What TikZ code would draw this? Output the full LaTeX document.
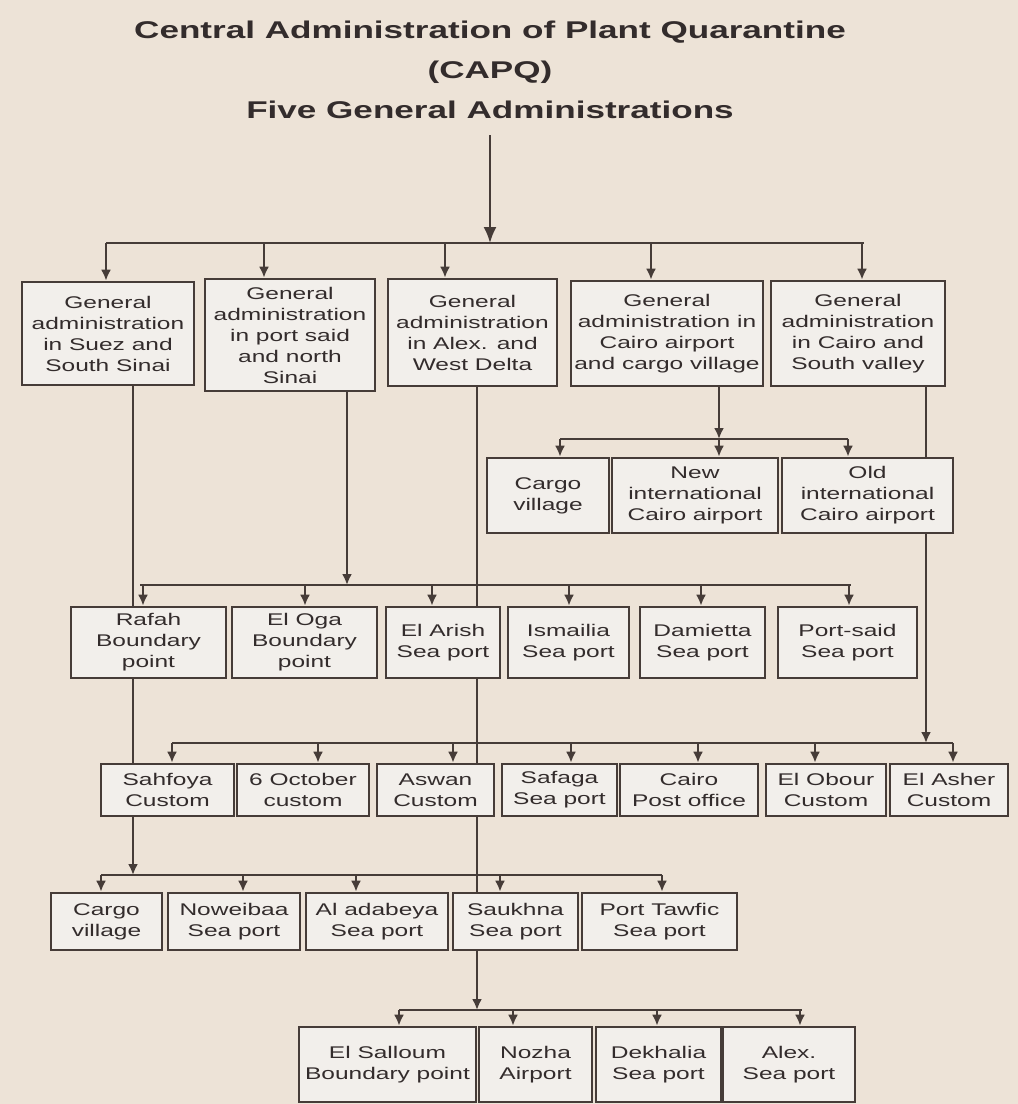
\documentclass[tikz,border=0pt]{standalone}
\usepackage{fontspec}
\setmainfont{Liberation Sans}[FakeStretch=1.45]
\usetikzlibrary{arrows.meta}
\definecolor{paper}{HTML}{EDE3D7}
\definecolor{boxfill}{HTML}{F2EFEB}
\definecolor{ink}{HTML}{463C38}
\definecolor{txt}{HTML}{332C2C}
\pgfdeclarelayer{bg}
\pgfdeclarelayer{wires}
\pgfsetlayers{bg,wires,main}
\newcommand{\mkbox}[6]{%
  \node[box, minimum width={#3-#2}, minimum height={#5-#4}] (#1) at ({(#2+#3)/2},{(#4+#5)/2}) {#6};}
\begin{document}
\begin{tikzpicture}[x=1pt,y=-1pt,
  box/.style={draw=ink, line width=2.6pt, fill=boxfill, inner sep=0pt, align=center, text=txt,
    font=\fontsize{16.9}{21}\selectfont},
  link/.style={draw=ink, line width=2.5pt},
  arr/.style={link, -{Latex[length=11pt,width=10pt]}},
  ttl/.style={text=txt, font=\fontsize{24.2}{29}\selectfont\bfseries, inner sep=0pt, anchor=base}]
\begin{pgfonlayer}{bg}
\fill[paper] (0,0) rectangle (1018,1104);
\end{pgfonlayer}
\useasboundingbox (0,0) rectangle (1018,1104);

% titles
\node[ttl] (t1) at (490,38) {Central Administration of Plant Quarantine};
\node[ttl] (t2) at (490,78) {(CAPQ)};
\node[ttl] (t3) at (490,118) {Five General Administrations};

% level 1
\mkbox{g1}{22}{194}{282}{385}{General\\administration\\in Suez and\\South Sinai}
\mkbox{g2}{205}{375}{279}{391}{General\\administration\\in port said\\and north\\Sinai}
\mkbox{g3}{388}{557}{279}{386}{General\\administration\\in Alex. and\\West Delta}
\mkbox{g4}{571}{763}{281}{386}{General\\administration in\\Cairo airport\\and cargo village}
\mkbox{g5}{771}{945}{281}{386}{General\\administration\\in Cairo and\\South valley}

% level 3a (Cairo airport)
\mkbox{ca1}{487}{609}{458}{533}{Cargo\\village}
\mkbox{ca2}{612}{778}{458}{533}{New\\international\\Cairo airport}
\mkbox{ca3}{782}{953}{458}{533}{Old\\international\\Cairo airport}

% level 2 (Port Said and North Sinai)
\mkbox{p1}{71}{226}{607}{678}{Rafah\\Boundary\\point}
\mkbox{p2}{232}{377}{607}{678}{El Oga\\Boundary\\point}
\mkbox{p3}{386}{500}{607}{678}{El Arish\\Sea port}
\mkbox{p4}{508}{629}{607}{678}{Ismailia\\Sea port}
\mkbox{p5}{640}{765}{607}{678}{Damietta\\Sea port}
\mkbox{p6}{778}{917}{607}{678}{Port-said\\Sea port}

% level 3 (Cairo and South valley)
\mkbox{c1}{101}{234}{764}{816}{Sahfoya\\Custom}
\mkbox{c2}{237}{369}{764}{816}{6 October\\custom}
\mkbox{c3}{377}{494}{764}{816}{Aswan\\Custom}
\mkbox{c4}{502}{617}{764}{816}{Safaga\\Sea port}
\mkbox{c5}{620}{758}{764}{816}{Cairo\\Post office}
\mkbox{c6}{766}{886}{764}{816}{El Obour\\Custom}
\mkbox{c7}{890}{1008}{764}{816}{El Asher\\Custom}

% level 4 (Suez and South Sinai)
\mkbox{s1}{51}{162}{893}{950}{Cargo\\village}
\mkbox{s2}{168}{300}{893}{950}{Noweibaa\\Sea port}
\mkbox{s3}{306}{448}{893}{950}{Al adabeya\\Sea port}
\mkbox{s4}{453}{578}{893}{950}{Saukhna\\Sea port}
\mkbox{s5}{582}{737}{893}{950}{Port Tawfic\\Sea port}

% level 5 (Alex. and West Delta)
\mkbox{a1}{299}{476}{1027}{1102}{El Salloum\\Boundary point}
\mkbox{a2}{479}{592}{1027}{1102}{Nozha\\Airport}
\mkbox{a3}{596}{721}{1027}{1102}{Dekhalia\\Sea port}
\mkbox{a4}{723}{855}{1027}{1102}{Alex.\\Sea port}

\begin{pgfonlayer}{wires}
% main arrow and top bus
\coordinate (top) at (490,135);
\coordinate (j1) at (490,243);
\draw[link, line width=2pt, -{Latex[length=16pt,width=13pt]}] (top) -- (j1);
\coordinate (b1l) at (106,243); \coordinate (b1r) at (864,243);
\draw[link] (b1l) -- (b1r);
\foreach \x/\n in {106/g1,264/g2,445/g3,651/g4,862/g5}{
  \coordinate (tp) at (\x,243);
  \draw[arr] (tp) -- (tp |- \n.north);
}

% Cairo airport branch
\coordinate (j3a) at (719,439);
\draw[arr] (g4.south -| j3a) -- (j3a);
\coordinate (b3al) at (560,439); \coordinate (b3ar) at (848,439);
\draw[link] (b3al) -- (b3ar);
\foreach \x/\n in {560/ca1,719/ca2,848/ca3}{
  \coordinate (tp) at (\x,439);
  \draw[arr] (tp) -- (tp |- \n.north);
}

% Port Said and North Sinai branch
\coordinate (j2) at (347,585);
\draw[arr] (g2.south -| j2) -- (j2);
\coordinate (b2l) at (140,585); \coordinate (b2r) at (851,585);
\draw[link] (b2l) -- (b2r);
\foreach \x/\n in {143/p1,305/p2,432/p3,569/p4,701/p5,849/p6}{
  \coordinate (tp) at (\x,585);
  \draw[arr] (tp) -- (tp |- \n.north);
}

% Cairo and South valley branch
\coordinate (j3) at (926,743);
\draw[arr] (g5.south -| j3) -- (j3);
\coordinate (b3l) at (172,743); \coordinate (b3r) at (953,743);
\draw[link] (b3l) -- (b3r);
\foreach \x/\n in {172/c1,318/c2,453/c3,571/c4,698/c5,815/c6,953/c7}{
  \coordinate (tp) at (\x,743);
  \draw[arr] (tp) -- (tp |- \n.north);
}

% Suez and South Sinai branch
\coordinate (j4) at (133,875);
\draw[arr] (g1.south -| j4) -- (j4);
\coordinate (b4l) at (101,875); \coordinate (b4r) at (662,875);
\draw[link] (b4l) -- (b4r);
\foreach \x/\n in {101/s1,243/s2,356/s3,500/s4,662/s5}{
  \coordinate (tp) at (\x,875);
  \draw[arr] (tp) -- (tp |- \n.north);
}

% Alex. and West Delta branch
\coordinate (j5) at (477,1010);
\draw[arr] (g3.south -| j5) -- (j5);
\coordinate (b5l) at (399,1010); \coordinate (b5r) at (802,1010);
\draw[link] (b5l) -- (b5r);
\foreach \x/\n in {399/a1,513/a2,657/a3,800/a4}{
  \coordinate (tp) at (\x,1010);
  \draw[arr] (tp) -- (tp |- \n.north);
}
\end{pgfonlayer}
\end{tikzpicture}
\end{document}
